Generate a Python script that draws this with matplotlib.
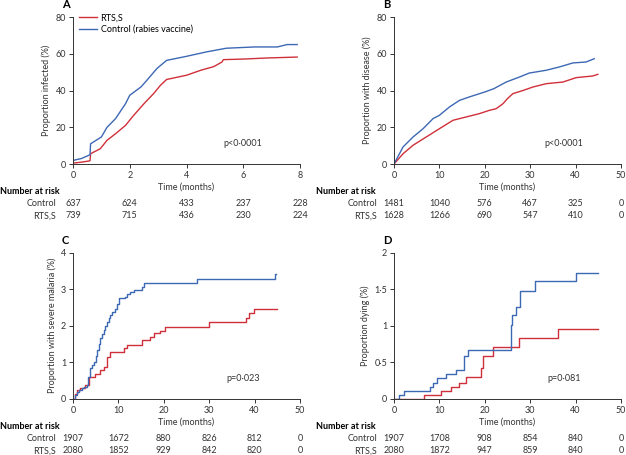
import matplotlib
matplotlib.use("Agg")
import matplotlib.pyplot as plt

plt.rcParams['font.family'] = ['Lato', 'DejaVu Sans']
plt.rcParams['font.size'] = 6

RED = "#d0303a"
BLUE = "#3d68b4"

# Panel A: proportion infected (%)
a_ctrl_t = [0, 0.02, 0.3, 0.55, 0.6, 0.62, 1.0, 1.2, 1.5, 1.85, 2.0, 2.4, 2.6, 2.96, 3.3, 4.0, 4.7, 5.4, 6.4, 7.2, 7.55, 7.9]
a_ctrl_y = [0, 2.0, 3.0, 4.7, 5.0, 11.0, 14.7, 20.0, 24.7, 32.8, 37.4, 42.0, 45.5, 52.0, 56.4, 58.6, 61.0, 63.0, 63.7, 63.7, 65.0, 65.0]
a_rts_t = [0, 0.02, 0.3, 0.55, 0.6, 0.62, 0.96, 1.2, 1.5, 1.85, 2.14, 2.5, 2.84, 3.08, 3.3, 4.0, 4.5, 4.96, 5.25, 5.3, 6.0, 6.84, 7.9]
a_rts_y = [0, 0.5, 1.0, 1.6, 1.8, 5.6, 8.3, 12.9, 16.5, 21.0, 26.5, 32.8, 38.3, 42.8, 46.0, 48.3, 51.0, 53.0, 55.5, 56.8, 57.1, 57.7, 58.2]

# Panel B: proportion with disease (%)
b_ctrl_t = [0, 2.0, 4.2, 6.4, 8.6, 10, 12.2, 14.4, 16.6, 20, 22, 24.7, 27.6, 29.8, 33.5, 36.4, 39.4, 42.3, 44.1]
b_ctrl_y = [0, 9.3, 14.7, 19.2, 24.7, 26.5, 31.0, 34.6, 36.5, 39.2, 41.0, 44.6, 47.3, 49.5, 51.0, 52.8, 55.0, 55.5, 57.3]
b_rts_t = [0, 2.0, 4.2, 7.1, 10, 13, 15.9, 18.8, 21, 22.5, 24, 25, 26.2, 28.4, 30.6, 33.5, 37.2, 40.1, 43.8, 44.9]
b_rts_y = [0, 5.6, 10.2, 14.7, 19.2, 23.8, 25.6, 27.4, 29.2, 30.1, 32.8, 35.6, 38.3, 40.0, 41.9, 43.7, 44.6, 47.0, 47.9, 48.8]

# Panel C: proportion with severe malaria (%)
c_ctrl_t = [0, 0.5, 0.9, 1.4, 2.0, 2.5, 3.1, 3.4, 3.8, 4.2, 4.6, 5.0, 5.3, 5.7, 6.0, 6.4, 6.8, 7.1, 7.5, 7.9, 8.2, 8.7, 9.3, 9.7, 10.1, 11.5, 12.0, 12.6, 13.4, 15.2, 15.7, 27.3, 44.6, 44.7]
c_ctrl_y = [0, 0.1, 0.19, 0.24, 0.28, 0.32, 0.37, 0.6, 0.83, 0.92, 1.0, 1.18, 1.33, 1.5, 1.65, 1.76, 1.88, 2.0, 2.1, 2.2, 2.3, 2.38, 2.47, 2.6, 2.75, 2.8, 2.86, 2.93, 2.98, 3.07, 3.16, 3.27, 3.43, 3.43]
c_rts_t = [0, 0.5, 0.9, 1.6, 2.7, 3.5, 4.9, 6.0, 6.8, 7.5, 8.2, 11.2, 11.9, 15.2, 17.0, 17.8, 19.2, 20.3, 29.9, 38.0, 38.7, 39.8, 44.9]
c_rts_y = [0, 0.14, 0.24, 0.28, 0.37, 0.6, 0.69, 0.79, 0.88, 1.15, 1.29, 1.38, 1.47, 1.6, 1.7, 1.79, 1.85, 1.97, 2.09, 2.2, 2.34, 2.45, 2.45]

# Panel D: proportion dying (%)
d_ctrl_t = [0, 1.1, 2.3, 8.0, 8.6, 9.5, 11.4, 13.7, 15.5, 16.3, 25.8, 26.0, 26.9, 27.8, 31.1, 40.1, 44.9]
d_ctrl_y = [0, 0.05, 0.11, 0.16, 0.22, 0.28, 0.34, 0.40, 0.59, 0.67, 1.01, 1.15, 1.26, 1.48, 1.61, 1.72, 1.72]
d_rts_t = [0, 6.7, 10.4, 12.6, 14.3, 15.9, 19.1, 19.6, 21.8, 27.5, 36.1, 44.9]
d_rts_y = [0, 0.05, 0.11, 0.16, 0.22, 0.30, 0.42, 0.59, 0.71, 0.83, 0.95, 0.95]

# Number at risk
a_risk_ctrl = [637, 624, 433, 237, 228]
a_risk_rts = [739, 715, 436, 230, 224]
b_risk_ctrl = [1481, 1040, 576, 467, 325, 0]
b_risk_rts = [1628, 1266, 690, 547, 410, 0]
c_risk_ctrl = [1907, 1672, 880, 826, 812, 0]
c_risk_rts = [2080, 1852, 929, 842, 820, 0]
d_risk_ctrl = [1907, 1708, 908, 854, 840, 0]
d_risk_rts = [2080, 1872, 947, 859, 840, 0]

fig = plt.figure(figsize=(6.26, 4.55), dpi=100)
W, H = 626, 455


def make_ax(x0, x1, ytop, ybot):
    return fig.add_axes([x0 / W, 1 - ybot / H, (x1 - x0) / W, (ybot - ytop) / H])


panels = [
    dict(box=(73, 300, 17, 164), letter="A", ct=a_ctrl_t, cy=a_ctrl_y, rt=a_rts_t, ry=a_rts_y,
         xt=[0, 2, 4, 6, 8], yt=[0, 20, 40, 60, 80], ytl=["0", "20", "40", "60", "80"],
         ylab="Proportion infected (%)", p="p<0·0001", step=False,
         rc=a_risk_ctrl, rr=a_risk_rts),
    dict(box=(394, 621, 17, 164), letter="B", ct=b_ctrl_t, cy=b_ctrl_y, rt=b_rts_t, ry=b_rts_y,
         xt=[0, 10, 20, 30, 40, 50], yt=[0, 20, 40, 60, 80], ytl=["0", "20", "40", "60", "80"],
         ylab="Proportion with disease (%)", p="p<0·0001", step=False,
         rc=b_risk_ctrl, rr=b_risk_rts),
    dict(box=(73, 300, 252.7, 398.7), letter="C", ct=c_ctrl_t, cy=c_ctrl_y, rt=c_rts_t, ry=c_rts_y,
         xt=[0, 10, 20, 30, 40, 50], yt=[0, 1, 2, 3, 4], ytl=["0", "1", "2", "3", "4"],
         ylab="Proportion with severe malaria (%)", p="p=0·023", step=True,
         rc=c_risk_ctrl, rr=c_risk_rts),
    dict(box=(394, 621, 253, 398.7), letter="D", ct=d_ctrl_t, cy=d_ctrl_y, rt=d_rts_t, ry=d_rts_y,
         xt=[0, 10, 20, 30, 40, 50], yt=[0, 0.5, 1, 1.5, 2], ytl=["0", "0·5", "1", "1·5", "2"],
         ylab="Proportion dying (%)", p="p=0·081", step=True,
         rc=d_risk_ctrl, rr=d_risk_rts),
]

for pnl in panels:
    x0, x1, ytop, ybot = pnl["box"]
    ax = make_ax(x0, x1, ytop, ybot)
    ds = "steps-post" if pnl["step"] else "default"
    ax.plot(pnl["rt"], pnl["ry"], color=RED, lw=1.0, drawstyle=ds, label="RTS,S")
    ax.plot(pnl["ct"], pnl["cy"], color=BLUE, lw=1.0, drawstyle=ds, label="Control (rabies vaccine)")
    ax.set_xlim(pnl["xt"][0], pnl["xt"][-1])
    ax.set_ylim(pnl["yt"][0], pnl["yt"][-1])
    ax.set_xticks(pnl["xt"])
    ax.set_yticks(pnl["yt"])
    ax.set_yticklabels(pnl["ytl"])
    for s in ["top", "right"]:
        ax.spines[s].set_visible(False)
    for s in ["left", "bottom"]:
        ax.spines[s].set_linewidth(0.7)
        ax.spines[s].set_color("#333333")
    ax.tick_params(length=3, width=0.7, pad=2, labelsize=6.5, colors="#333333")
    ax.set_xlabel("Time (months)", fontsize=6.5, labelpad=2, color="#333333")
    ax.set_ylabel(pnl["ylab"], fontsize=6.5, labelpad=3, color="#333333")
    ax.text(0.75, 0.14, pnl["p"], transform=ax.transAxes, ha="center", va="center",
            fontsize=6.5, color="#333333")
    fig.text((x0 - 11) / W, 1 - (ytop - 12) / H, pnl["letter"], fontsize=8,
             fontweight="bold", ha="left", va="center")
    if pnl["letter"] == "A":
        ax.legend(loc="upper left", bbox_to_anchor=(-0.01, 1.08), frameon=False,
                  fontsize=6.5, handlelength=2.0, handletextpad=0.4, labelspacing=0.3)

    # number at risk table
    lab_x = 0 if x0 < 313 else 316
    fig.text(lab_x / W, 1 - (ybot + 28) / H, "Number at risk", fontsize=6.5,
             fontweight="bold", ha="left", va="center")
    fig.text((x0 - 17) / W, 1 - (ybot + 40) / H, "Control", fontsize=6.5,
             ha="right", va="center", color="#333333")
    fig.text((x0 - 17) / W, 1 - (ybot + 52) / H, "RTS,S", fontsize=6.5,
             ha="right", va="center", color="#333333")
    xmin, xmax = pnl["xt"][0], pnl["xt"][-1]
    for tv, nc, nr in zip(pnl["xt"], pnl["rc"], pnl["rr"]):
        px = x0 + (tv - xmin) / (xmax - xmin) * (x1 - x0)
        fig.text(px / W, 1 - (ybot + 40) / H, str(nc), fontsize=6.5, ha="center",
                 va="center", color="#333333")
        fig.text(px / W, 1 - (ybot + 52) / H, str(nr), fontsize=6.5, ha="center",
                 va="center", color="#333333")

fig.savefig("out.png", dpi=100)
